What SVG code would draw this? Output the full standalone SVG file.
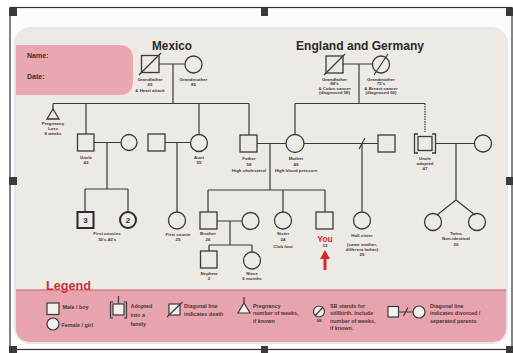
<svg xmlns="http://www.w3.org/2000/svg" width="513" height="353" viewBox="0 0 513 353">
<style>
.ln{fill:none;stroke:#3a3a3a;stroke-width:1.2}
.nd{fill:none;stroke:#3a3a3a;stroke-width:1.3}
.lb{font-family:"Liberation Sans",Arial,sans-serif;font-size:4.4px;font-weight:bold;fill:#3a3a3a;text-anchor:middle}
.lg{font-family:"Liberation Sans",Arial,sans-serif;font-size:5.4px;font-weight:bold;fill:#4a3638}
.tt{font-family:"Liberation Sans",Arial,sans-serif;font-size:12.5px;font-weight:bold;fill:#2a2a2a;text-anchor:middle}
.hd{fill:#3a3a3a}
</style>
<rect x="0" y="0" width="513" height="353" fill="#ffffff"/>
<!-- frame -->
<g id="frame">
<rect x="10" y="7.5" width="502" height="342" fill="#fbfbfb" stroke="#333" stroke-width="1.2"/>
<rect x="14" y="27" width="494" height="317" rx="17" fill="#e2e7ed"/>
<path d="M31 29 H491 Q506 29 506 44 V327 Q506 342 491 342 H31 Q16 342 16 327 V44 Q16 29 31 29 Z" fill="#ede9e4"/>
</g>
<!-- header -->
<g id="header">
<path d="M16 45 H119 Q133 45 133 59 V81 Q133 95 119 95 H16 Z" fill="#e9a7b1"/>
<text x="27" y="58" font-family="Liberation Sans,Arial,sans-serif" font-size="7" font-weight="bold" fill="#3a3032">Name:</text>
<text x="27" y="79" font-family="Liberation Sans,Arial,sans-serif" font-size="7" font-weight="bold" fill="#3a3032">Date:</text>
<text class="tt" x="172" y="50" textLength="40" lengthAdjust="spacingAndGlyphs">Mexico</text>
<text class="tt" x="360" y="50" textLength="128" lengthAdjust="spacingAndGlyphs">England and Germany</text>
</g>
<!-- connectors -->
<g id="connectors" class="ln">
<path d="M159 64 H185 M173 64 V103.5 M53 103.5 H249 M53 103.5 V109 M86 103.5 V134 M199 103.5 V135 M249 103.5 V135"/>
<path d="M343 64 H372.5 M359 64 V103.5 M295 103.5 H425 M295 103.5 V134"/>
<path d="M425 103.5 V132" stroke-dasharray="1.5 1"/>
<path d="M94 142.5 H121 M107 142.5 V189 M85 189 H128 M85 189 V212 M128 189 V212"/>
<path d="M165 142.5 H191 M177 142.5 V212"/>
<path d="M257 143.5 H286 M270 143.5 V190 M208 190 H325 M208 190 V212 M283 190 V212 M325 190 V212"/>
<path d="M304 143.5 H378 M362 143.5 V212 M359 149 L365 138"/>
<path d="M436 143.5 H475 M456 143.5 V200 L437 215 M456 200 L475 215"/>
<path d="M217 221 H242 M230 221 V245 M209 245 H252 M209 245 V251 M252 245 V252"/>
</g>
<!-- nodes -->
<g id="mx-grandfather"><rect class="nd" x="141.5" y="55.5" width="17.5" height="17"/><path class="ln" d="M139 75 L161 53"/>
<text class="lb" x="150" y="81">Grandfather</text><text class="lb" x="150" y="86">65</text><text class="lb" x="150" y="91.5">&amp; Heart attack</text></g>
<g id="mx-grandmother"><circle class="nd" cx="193.5" cy="64.5" r="8.5"/>
<text class="lb" x="193.5" y="81">Grandmother</text><text class="lb" x="193.5" y="86">85</text></g>
<g id="en-grandfather"><rect class="nd" x="326" y="56" width="17" height="17"/><path class="ln" d="M324 75 L345 54"/>
<text class="lb" x="334.5" y="80.5">Grandfather</text><text class="lb" x="334.5" y="85">88's</text><text class="lb" x="334.5" y="89.5">&amp; Colon cancer</text><text class="lb" x="334.5" y="94">(diagnosed 58)</text></g>
<g id="en-grandmother"><circle class="nd" cx="381" cy="64.5" r="8.5"/><path class="ln" d="M374 75 L388 54"/>
<text class="lb" x="381" y="80.5">Grandmother</text><text class="lb" x="381" y="85">75's</text><text class="lb" x="381" y="89.5">&amp; Breast cancer</text><text class="lb" x="381" y="94">(diagnosed 60)</text></g>
<g id="pregnancy-loss"><path class="nd" d="M53 109 L59 119 H47 Z"/>
<text class="lb" x="53" y="125">Pregnancy</text><text class="lb" x="53" y="130">Loss</text><text class="lb" x="53" y="135">8 weeks</text></g>
<g id="uncle-left"><rect class="nd" x="77.5" y="134" width="16.5" height="17"/>
<text class="lb" x="86" y="158.5">Uncle</text><text class="lb" x="86" y="163.5">42</text></g>
<g id="uncle-wife"><circle class="nd" cx="129" cy="142.5" r="8"/></g>
<g id="cousins-3"><rect x="77.5" y="212" width="16" height="16" fill="none" stroke="#2a2a2a" stroke-width="2"/>
<text x="85.5" y="223" font-family="Liberation Sans,Arial,sans-serif" font-size="8" font-weight="bold" fill="#2a2a2a" text-anchor="middle">3</text></g>
<g id="cousins-2"><circle cx="128" cy="220" r="8" fill="none" stroke="#2a2a2a" stroke-width="2"/>
<text x="128" y="223" font-family="Liberation Sans,Arial,sans-serif" font-size="8" font-weight="bold" fill="#2a2a2a" text-anchor="middle">2</text>
<text class="lb" x="107" y="235">First cousins</text><text class="lb" x="107" y="240.5">30's-40's</text></g>
<g id="aunt-husband"><rect class="nd" x="148" y="134" width="17" height="17"/></g>
<g id="aunt"><circle class="nd" cx="199" cy="143" r="8.5"/>
<text class="lb" x="199" y="159">Aunt</text><text class="lb" x="199" y="164">55</text></g>
<g id="first-cousin"><circle class="nd" cx="177" cy="220.5" r="8.5"/>
<text class="lb" x="178" y="235.5">First cousin</text><text class="lb" x="178" y="241">25</text></g>
<g id="father"><rect class="nd" x="240" y="135" width="17" height="17"/>
<text class="lb" x="249" y="160">Father</text><text class="lb" x="249" y="166">58</text><text class="lb" x="249" y="172">High cholesterol</text></g>
<g id="mother"><circle class="nd" cx="295" cy="143.5" r="9"/>
<text class="lb" x="296" y="160">Mother</text><text class="lb" x="296" y="166">49</text><text class="lb" x="296" y="172">High blood pressure</text></g>
<g id="mother-partner"><rect class="nd" x="378" y="135" width="17" height="17"/></g>
<g id="half-sister"><circle class="nd" cx="362" cy="220.5" r="8.5"/>
<text class="lb" x="362" y="236.5">Half-sister</text><text class="lb" x="362" y="246">(same mother,</text><text class="lb" x="362" y="251">different father)</text><text class="lb" x="362" y="256">29</text></g>
<g id="uncle-adopted"><path class="nd" d="M418 134 H414.5 V153 H418 M432 134 H435.5 V153 H432"/><rect class="nd" x="418" y="136.5" width="14" height="14"/>
<text class="lb" x="425" y="159.5">Uncle</text><text class="lb" x="425" y="164.5">adopted</text><text class="lb" x="425" y="169.5">47</text></g>
<g id="uncle-adopted-wife"><circle class="nd" cx="483" cy="143.5" r="8.5"/></g>
<g id="twin-1"><circle class="nd" cx="433" cy="222" r="8.5"/></g>
<g id="twin-2"><circle class="nd" cx="477" cy="222" r="8.5"/>
<text class="lb" x="456" y="234.5">Twins</text><text class="lb" x="456" y="240">Non-identical</text><text class="lb" x="456" y="245.5">20</text></g>
<g id="brother"><rect class="nd" x="200" y="212" width="17" height="17"/>
<text class="lb" x="208" y="235">Brother</text><text class="lb" x="208" y="241">26</text></g>
<g id="brother-wife"><circle class="nd" cx="250.5" cy="221" r="8.5"/></g>
<g id="sister"><circle class="nd" cx="283" cy="220.5" r="8.5"/>
<text class="lb" x="283" y="235">Sister</text><text class="lb" x="283" y="241">24</text><text class="lb" x="283" y="247.5">Club foot</text></g>
<g id="you"><rect class="nd" x="316" y="212" width="17" height="17"/>
<text x="325" y="241.5" font-family="Liberation Sans,Arial,sans-serif" font-size="8.5" font-weight="bold" fill="#d42a2a" text-anchor="middle">You</text>
<text class="lb" x="325" y="247">33</text>
<path d="M325 250 L320 259 H323.5 V270 H326.5 V259 H330 Z" fill="#d42a2a"/></g>
<g id="nephew"><rect class="nd" x="200.5" y="251" width="16.5" height="17"/>
<text class="lb" x="209" y="274.5">Nephew</text><text class="lb" x="209" y="280">2</text></g>
<g id="niece"><circle class="nd" cx="252" cy="260.5" r="8.5"/>
<text class="lb" x="252" y="274.5">Niece</text><text class="lb" x="252" y="280">6 months</text></g>
<!-- legend -->
<g id="legend">
<path d="M16 290 H506 V327 Q506 342 491 342 H31 Q16 342 16 327 Z" fill="#e7a4ae"/>
<path d="M16 290 H506" stroke="#c9606c" stroke-width="1"/>
<text x="46" y="290" font-family="Liberation Sans,Arial,sans-serif" font-size="13" font-weight="bold" fill="#c8323a" textLength="45" lengthAdjust="spacingAndGlyphs">Legend</text>
<rect x="47" y="303" width="12" height="11.5" fill="#f2f0ee" stroke="#3a3a3a" stroke-width="1.2"/>
<text class="lg" x="62.5" y="309">Male / boy</text>
<circle cx="53" cy="324" r="6" fill="#f2f0ee" stroke="#3a3a3a" stroke-width="1.2"/>
<text class="lg" x="61.5" y="326.5">Female / girl</text>
<path class="ln" d="M113 302 H110.5 V318 H113 M124 302 H126.5 V318 H124 M118.5 296 V304"/>
<rect x="113" y="304" width="11" height="11" fill="#f2f0ee" stroke="#3a3a3a" stroke-width="1.2"/>
<text class="lg" x="130.5" y="308">Adopted</text><text class="lg" x="130.5" y="316.5">into a</text><text class="lg" x="130.5" y="326">family</text>
<rect x="169" y="304" width="11" height="11" fill="#f2f0ee" stroke="#3a3a3a" stroke-width="1.2"/>
<path class="ln" d="M167 317 L182.5 302"/>
<text class="lg" x="184" y="308">Diagonal line</text><text class="lg" x="184" y="315.5">indicates death</text>
<path class="ln" d="M244 297 V303"/>
<path d="M244 303 L250 313 H238 Z" fill="#f2f0ee" stroke="#3a3a3a" stroke-width="1.2"/>
<text class="lg" x="253" y="307.5">Pregnancy</text><text class="lg" x="253" y="315">number of weeks,</text><text class="lg" x="253" y="322.5">if known</text>
<circle cx="319" cy="311.5" r="5.5" fill="#f2f0ee" stroke="#3a3a3a" stroke-width="1.2"/>
<path class="ln" d="M315 316 L323 307"/>
<text x="319" y="321.5" font-family="Liberation Sans,Arial,sans-serif" font-size="3.5" font-weight="bold" fill="#4a3638" text-anchor="middle">SB</text>
<text class="lg" x="330" y="307.5">SB stands for</text><text class="lg" x="330" y="315">stillbirth. Include</text><text class="lg" x="330" y="322.5">number of weeks,</text><text class="lg" x="330" y="330">if known.</text>
<rect x="388" y="306.5" width="10.5" height="10.5" fill="#f2f0ee" stroke="#3a3a3a" stroke-width="1.2"/>
<path class="ln" d="M398.5 312 H413 M403.5 316 L408 307.5"/>
<circle cx="419" cy="312" r="6" fill="#f2f0ee" stroke="#3a3a3a" stroke-width="1.2"/>
<text class="lg" x="430" y="307.5">Diagonal line</text><text class="lg" x="430" y="315">indicates divorced /</text><text class="lg" x="430" y="322.5">separated parents</text>
</g>
<!-- handles -->
<g id="handles" class="hd">
<rect x="9" y="8" width="8" height="8"/><rect x="261" y="8" width="7" height="8"/><rect x="506" y="8" width="7" height="8"/>
<rect x="9" y="177" width="8" height="8"/><rect x="506" y="177" width="7" height="8"/>
<rect x="9" y="346" width="8" height="7"/><rect x="261" y="346" width="7" height="7"/><rect x="506" y="346" width="7" height="7"/>
</g>
</svg>
